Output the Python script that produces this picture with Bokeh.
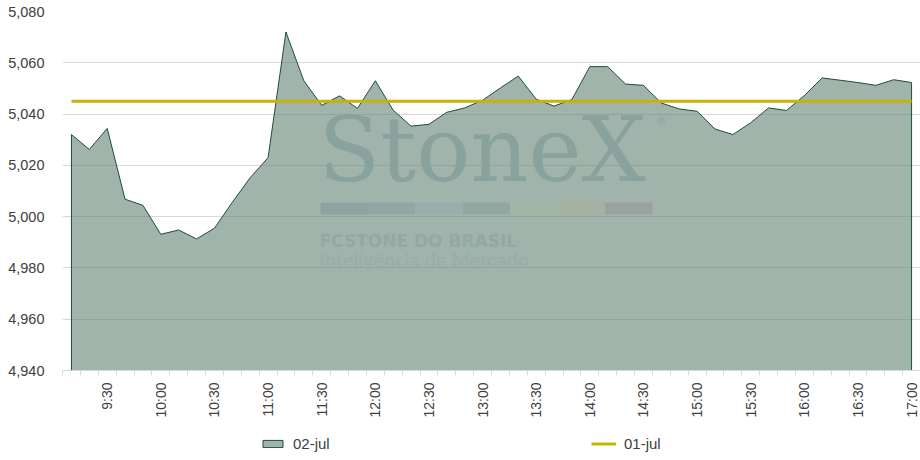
from bokeh.plotting import figure
from bokeh.layouts import column
from bokeh.models import (Legend, LegendItem, FixedTicker, NumeralTickFormatter,
                          Range1d, Label, BoxAnnotation)
from bokeh.embed import file_html
from bokeh.resources import INLINE
from math import pi

times = ["9:10", "9:20", "9:30", "9:40", "9:50", "10:00", "10:10", "10:20", "10:30", "10:40",
         "10:50", "11:00", "11:10", "11:20", "11:30", "11:40", "11:50", "12:00", "12:10", "12:20",
         "12:30", "12:40", "12:50", "13:00", "13:10", "13:20", "13:30", "13:40", "13:50", "14:00",
         "14:10", "14:20", "14:30", "14:40", "14:50", "15:00", "15:10", "15:20", "15:30", "15:40",
         "15:50", "16:00", "16:10", "16:20", "16:30", "16:40", "16:50", "17:00"]

jul02 = [5032.0, 5026.2, 5034.4, 5006.8, 5004.4, 4993.1, 4994.8, 4991.3, 4995.5, 5005.6,
         5015.2, 5023.0, 5072.0, 5053.0, 5043.4, 5047.1, 5042.2, 5053.0, 5041.5, 5035.3,
         5036.0, 5040.7, 5042.4, 5045.4, 5050.2, 5054.8, 5045.8, 5043.1, 5045.7, 5058.5,
         5058.5, 5051.7, 5051.2, 5044.3, 5042.0, 5041.1, 5034.2, 5032.0, 5036.6, 5042.4,
         5041.4, 5047.2, 5054.1, 5053.2, 5052.3, 5051.2, 5053.4, 5052.3]

jul01_level = 5045.0

y_ticks = [4940, 4960, 4980, 5000, 5020, 5040, 5060, 5080]
label_every = 3  # 9:30, 10:00, ...

n = len(times)
xs = list(range(n))
base = y_ticks[0]
px = [xs[0]] + xs + [xs[-1]]
py = [base] + jul02 + [base]

AREA_STYLE = dict(fill_color="#618275", fill_alpha=0.6, line_color="#1E4C3A", line_width=1)
LINE_STYLE = dict(line_color="#C8B400", line_width=3)

p = figure(width=920, height=420, output_backend="svg", toolbar_location=None,
           x_range=Range1d(-0.5, n - 0.5), y_range=Range1d(y_ticks[0], y_ticks[-1]),
           min_border_left=62, min_border_right=0, min_border_top=11, min_border_bottom=49)
p.outline_line_color = None
p.background_fill_color = "white"
p.border_fill_color = "white"

p.xgrid.grid_line_color = None
p.ygrid.grid_line_color = "#D9D9D9"
p.ygrid.grid_line_width = 1

area = p.patch(px, py, **AREA_STYLE)

# watermark (screen units, relative to plot frame)
p.add_layout(Label(x=256, y=221, x_units="screen", y_units="screen", text="StoneX",
                   text_font="DejaVu Serif", text_font_size="90px",
                   text_color="#8AA29D", text_baseline="middle"))
p.add_layout(Label(x=593, y=249, x_units="screen", y_units="screen", text="®",
                   text_font="DejaVu Sans", text_font_size="11px",
                   text_color="#8FA7A2", text_baseline="middle"))
bar_cols = ["#8CA39F", "#91A7A5", "#98AFAD", "#90A8A0", "#A2B4A4", "#A6B2A1", "#9AA29F"]
for i, c in enumerate(bar_cols):
    p.add_layout(BoxAnnotation(left=258 + i * 47.4, right=258 + (i + 1) * 47.4,
                               bottom=156, top=168,
                               left_units="screen", right_units="screen",
                               bottom_units="screen", top_units="screen",
                               fill_color=c, fill_alpha=1, line_color=None, level="annotation"))
p.add_layout(Label(x=257, y=130, x_units="screen", y_units="screen", text="FCSTONE DO BRASIL",
                   text_font="DejaVu Sans", text_font_style="bold", text_font_size="17px",
                   text_color="#92A9A4", text_baseline="middle"))
p.add_layout(Label(x=257, y=112, x_units="screen", y_units="screen",
                   text="Inteligência de Mercado",
                   text_font="Lato", text_font_size="20px",
                   text_color="#98AEA8", text_baseline="middle"))

ref = p.line(xs, [jul01_level] * n, **LINE_STYLE)

# y axis
p.yaxis.ticker = FixedTicker(ticks=y_ticks)
p.yaxis.formatter = NumeralTickFormatter(format="0,0")
p.yaxis.axis_line_color = None
p.yaxis.major_tick_line_color = None
p.yaxis.minor_tick_line_color = None
p.yaxis.major_label_text_font = "Liberation Sans"
p.yaxis.major_label_text_font_size = "14.5px"
p.yaxis.major_label_text_color = "#404040"
p.yaxis.major_label_standoff = 12

# x axis: category style
major = [i for i in xs if (i - 2) % label_every == 0]
p.xaxis.ticker = FixedTicker(ticks=major, minor_ticks=[i - 0.5 for i in range(n + 1)])
p.xaxis.major_label_overrides = {i: times[i] for i in major}
p.xaxis.major_label_orientation = pi / 2
p.xaxis.axis_line_color = "#D9D9D9"
p.xaxis.major_tick_line_color = None
p.xaxis.minor_tick_line_color = "#D9D9D9"
p.xaxis.minor_tick_out = 5
p.xaxis.minor_tick_in = 0
p.xaxis.major_label_text_font = "Liberation Sans"
p.xaxis.major_label_text_font_size = "14px"
p.xaxis.major_label_text_color = "#404040"
p.xaxis.major_label_standoff = 6

# legend strip below the chart (same series, hidden, only for legend swatches)
lg = figure(width=920, height=40, output_backend="svg", toolbar_location=None,
            x_axis_type=None, y_axis_type=None,
            min_border_left=0, min_border_right=0, min_border_top=0, min_border_bottom=0)
lg.outline_line_color = None
lg.grid.grid_line_color = None
lg_area = lg.patch(px, py, visible=False, **AREA_STYLE)
lg_ref = lg.line(xs, [jul01_level] * n, visible=False, **LINE_STYLE)

legend = Legend(items=[LegendItem(label="02-jul", renderers=[lg_area]),
                       LegendItem(label="01-jul", renderers=[lg_ref])],
                orientation="horizontal", location=(198, 8),
                glyph_width=25, glyph_height=9, label_standoff=8,
                label_width=94, spacing=204,
                label_text_font="Liberation Sans", label_text_font_size="15px",
                label_text_color="#404040", border_line_color=None,
                background_fill_alpha=0, padding=4, margin=0)
lg.add_layout(legend)

layout = column(p, lg, spacing=0)
open("out.html", "w").write(file_html(layout, INLINE))
